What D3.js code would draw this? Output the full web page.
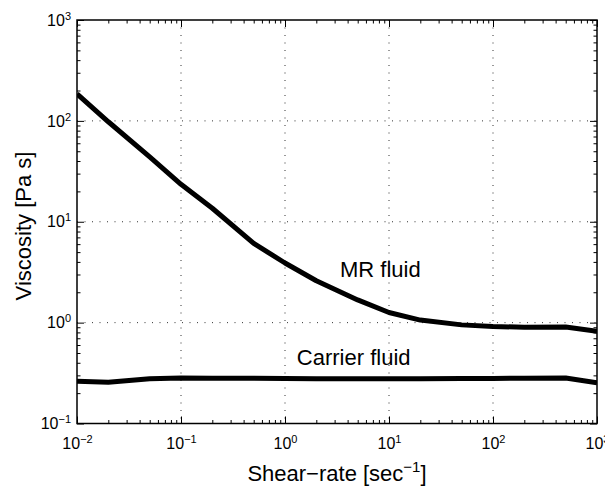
<!DOCTYPE html>
<html>
<head>
<meta charset="utf-8">
<script src="https://cdn.jsdelivr.net/npm/d3@7"></script>
<style>
  body { margin: 0; background: #fff; }
  text { font-family: "Liberation Sans", Arial, sans-serif; fill: #000; }
</style>
</head>
<body>
<figure id="visc" style="margin:0"></figure>
<script>
// shear rate samples [1/s]
var shearRate = [0.01, 0.02, 0.05, 0.1, 0.2, 0.5, 1, 2, 5, 10, 20, 50, 100, 200, 500, 1000];
// viscosity [Pa s]
var mrFluid = [185, 98, 44, 23.5, 13.6, 6.1, 3.9, 2.6, 1.68, 1.26, 1.06, 0.95, 0.915, 0.9, 0.905, 0.82];
var carrierFluid = [0.262, 0.256, 0.278, 0.282, 0.281, 0.281, 0.28, 0.278, 0.278, 0.278, 0.278, 0.279, 0.28, 0.281, 0.283, 0.254];

var xTicks = [1e-2, 1e-1, 1e0, 1e1, 1e2, 1e3];
var xExp = ["\u22122", "\u22121", "0", "1", "2", "3"];
var yTicks = [1e-1, 1e0, 1e1, 1e2, 1e3];
var yExp = ["\u22121", "0", "1", "2", "3"];

var dimensions = {
	width: 605,
	height: 486,
	margin: { top: 20, right: 8, bottom: 62.5, left: 77 }
};
dimensions.boundedWidth = dimensions.width - dimensions.margin.left - dimensions.margin.right;
dimensions.boundedHeight = dimensions.height - dimensions.margin.top - dimensions.margin.bottom;

var svg = d3.select("figure#visc")
	.append("svg")
	.attr("width", dimensions.width)
	.attr("height", dimensions.height);

var g = svg.append("g")
	.attr("transform", `translate(${dimensions.margin.left},${dimensions.margin.top})`);

var xScale = d3.scaleLog()
	.domain([1e-2, 1e3])
	.range([0, dimensions.boundedWidth]);

var yScale = d3.scaleLog()
	.domain([1e-1, 1e3])
	.range([dimensions.boundedHeight, 0]);

// minor ticks 2..9 in each decade
function minors(ticks) {
	var out = [];
	for (var i = 0; i < ticks.length - 1; i++) {
		for (var k = 2; k <= 9; k++) out.push(ticks[i] * k);
	}
	return out;
}
var xMinor = minors(xTicks);
var yMinor = minors(yTicks);

// dotted grid at decades
var grid = g.append("g").attr("class", "grid")
	.attr("stroke", "#333")
	.attr("stroke-width", 1)
	.attr("stroke-dasharray", "1,6.5");

grid.selectAll("line.gx")
	.data(xTicks.slice(1, -1))
	.enter().append("line")
	.attr("class", "gx")
	.attr("x1", d => xScale(d)).attr("x2", d => xScale(d))
	.attr("y1", 0).attr("y2", dimensions.boundedHeight);

grid.selectAll("line.gy")
	.data(yTicks.slice(1, -1))
	.enter().append("line")
	.attr("class", "gy")
	.attr("y1", d => yScale(d)).attr("y2", d => yScale(d))
	.attr("x1", 0).attr("x2", dimensions.boundedWidth);

// curves
g.append("clipPath").attr("id", "clip")
	.append("rect")
	.attr("width", dimensions.boundedWidth)
	.attr("height", dimensions.boundedHeight);

var line = d3.line()
	.x(d => xScale(d[0]))
	.y(d => yScale(d[1]));

[mrFluid, carrierFluid].forEach(function(series) {
	g.append("path")
		.datum(d3.zip(shearRate, series))
		.attr("clip-path", "url(#clip)")
		.attr("fill", "none")
		.attr("stroke", "#000")
		.attr("stroke-width", 5)
		.attr("stroke-linejoin", "round")
		.attr("d", line);
});

// axes: ticks point inward on all four sides
function tickAxis(axisFn, scale, values, size, translate) {
	var a = g.append("g")
		.attr("transform", translate)
		.call(axisFn(scale).tickValues(values).tickSize(-size).tickFormat(""));
	a.select(".domain").remove();
	a.selectAll("line").attr("stroke", "#000").attr("stroke-width", 1);
	return a;
}

var bottomT = `translate(0,${dimensions.boundedHeight})`;
var rightT = `translate(${dimensions.boundedWidth},0)`;

tickAxis(d3.axisBottom, xScale, xMinor, 3.5, bottomT);
tickAxis(d3.axisTop, xScale, xMinor, 3.5, "");
tickAxis(d3.axisLeft, yScale, yMinor, 3.5, "");
tickAxis(d3.axisRight, yScale, yMinor, 3.5, rightT);
tickAxis(d3.axisTop, xScale, xTicks, 7, "");
tickAxis(d3.axisRight, yScale, yTicks, 7, rightT);

var xAxis = g.append("g")
	.attr("transform", bottomT)
	.call(d3.axisBottom(xScale).tickValues(xTicks).tickSize(-7).tickPadding(14).tickFormat(() => "10"));
var yAxis = g.append("g")
	.call(d3.axisLeft(yScale).tickValues(yTicks).tickSize(-7).tickPadding(6).tickFormat(() => "10"));

[xAxis, yAxis].forEach(function(a) {
	a.select(".domain").remove();
	a.selectAll("line").attr("stroke", "#000").attr("stroke-width", 1);
	a.selectAll("text")
		.attr("font-size", 16)
		.attr("font-family", "Liberation Sans, Arial, sans-serif")
		.attr("fill", "#000");
});

xAxis.selectAll(".tick text")
	.append("tspan")
	.attr("dy", -6)
	.attr("font-size", 11)
	.text((d, i) => xExp[i]);
yAxis.selectAll(".tick text")
	.append("tspan")
	.attr("dy", -6)
	.attr("font-size", 11)
	.text((d, i) => yExp[i]);

// frame
g.append("rect")
	.attr("width", dimensions.boundedWidth)
	.attr("height", dimensions.boundedHeight)
	.attr("fill", "none")
	.attr("stroke", "#000")
	.attr("stroke-width", 1.5);

// labels on the curves
g.append("text")
	.attr("x", xScale(3.38))
	.attr("y", yScale(2.85))
	.attr("font-size", 22)
	.text("MR fluid");

g.append("text")
	.attr("x", xScale(1.3))
	.attr("y", yScale(0.38))
	.attr("font-size", 22)
	.text("Carrier fluid");

// axis titles
var xTitle = svg.append("text")
	.attr("x", dimensions.margin.left + dimensions.boundedWidth / 2)
	.attr("y", 481)
	.attr("text-anchor", "middle")
	.attr("font-size", 22)
	.text("Shear\u2212rate [sec");
xTitle.append("tspan").attr("dy", -9).attr("font-size", 15).text("\u22121");
xTitle.append("tspan").attr("dy", 9).text("]");

svg.append("text")
	.attr("transform", "translate(31,226) rotate(-90)")
	.attr("text-anchor", "middle")
	.attr("font-size", 22)
	.text("Viscosity [Pa s]");
</script>
</body>
</html>
